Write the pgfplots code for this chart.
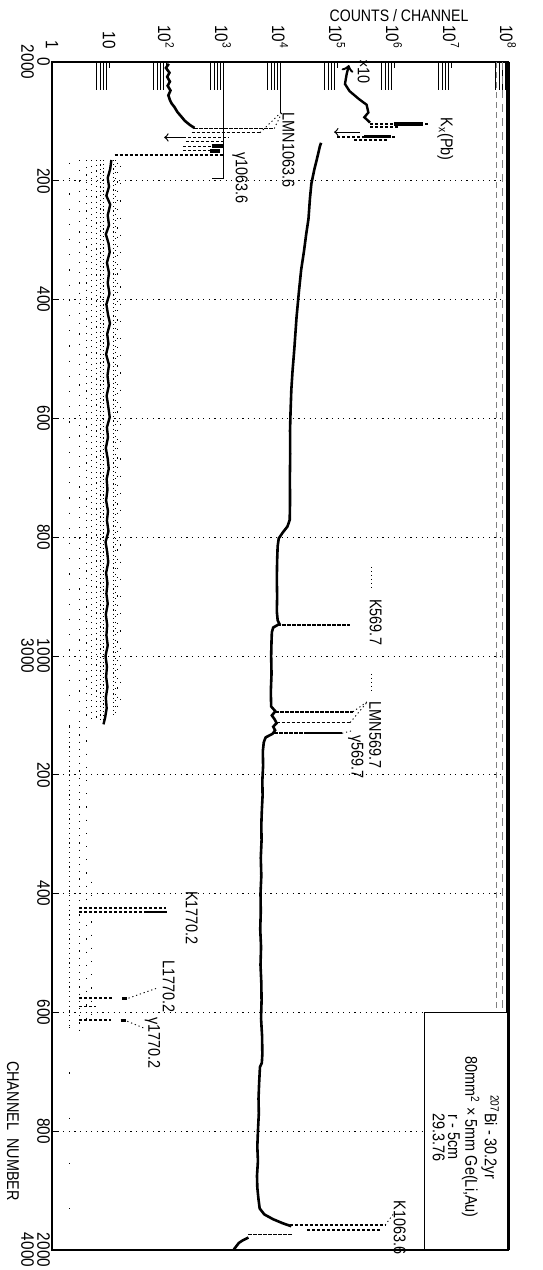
\documentclass[border=0pt]{standalone}
\usepackage{fontspec}
\setmainfont{Liberation Sans}[FakeStretch=0.85]
\usepackage{pgfplots}
\pgfplotsset{compat=1.18}
\tikzset{
  pk/.style={line width=0.8pt, dash pattern=on 1.6pt off 0.9pt},
  ld/.style={line width=0.45pt, dash pattern=on 0.6pt off 1.4pt},
  col/.style={line width=0.65pt},
  lab/.style={rotate=-90, font=\fontsize{8.5}{8.5}\selectfont, inner sep=0pt},
}
\begin{document}
\begin{tikzpicture}
\useasboundingbox (-26pt,-10pt) rectangle (245pt,625pt);
\begin{axis}[
  at={(0,0)}, anchor=south west,
  scale only axis, width=228pt, height=594pt,
  xmode=log, xmin=1, xmax=1e8,
  ymin=0, ymax=2000, y dir=reverse,
  clip=false,
  axis line style={line width=0.6pt},
  xtick={1,10,100,1000,10000,100000,1000000,10000000,100000000},
  xticklabels={1,10,10\textsuperscript{2},10\textsuperscript{3},10\textsuperscript{4},
               10\textsuperscript{5},10\textsuperscript{6},10\textsuperscript{7},10\textsuperscript{8}},
  minor xtick={6,7,8,9,60,70,80,90,600,700,800,900,6000,7000,8000,9000,
               60000,70000,80000,90000,600000,700000,800000,900000,
               6000000,7000000,8000000,9000000,60000000,70000000,80000000,90000000},
  xtick pos=right, xticklabel pos=right,
  ytick={0,200,...,2000},
  yticklabels={{0\\2000},200,400,600,800,{1000\\3000},200,400,600,800,{2000\\4000}},
  ytick pos=left,
  major tick length=3pt, minor tick length=14pt,
  tick style={black, line width=0.4pt},
  minor tick style={black, line width=0.3pt},
  xticklabel style={rotate=-90, anchor=east, font=\fontsize{9}{9}\selectfont},
  xticklabel shift=3pt,
  yticklabel style={rotate=-90, anchor=north, align=center, font=\fontsize{9}{8}\selectfont},
  yticklabel shift=-2.5pt,
  ymajorgrids,
  grid style={black, line width=0.5pt, dash pattern=on 0.6pt off 2.2pt},
]

% ruler marks at the top
\addplot[line width=0.4pt] coordinates {(1000,0) (1000,196) (630,196)};
\addplot[line width=0.4pt] coordinates {(10000,0) (10000,86)};
\addplot[line width=0.3pt, gray, dash pattern=on 3pt off 2pt] coordinates {(63000000,0) (63000000,1600)};
\addplot[line width=0.3pt, gray, dash pattern=on 4pt off 3pt] coordinates {(79000000,0) (79000000,1600)};

% ---- low-count spectrum: scatter columns at integer counts
\addplot[col, dash pattern=on 0.6pt off 7pt] coordinates {(2,170) (2,1120)};
\addplot[col, dash pattern=on 0.6pt off 1.8pt] coordinates {(2,1120) (2,1625)};
\addplot[col, dash pattern=on 0.6pt off 22pt] coordinates {(2,1625) (2,1960)};
\addplot[col, dash pattern=on 0.6pt off 4.5pt] coordinates {(3,165) (3,1120)};
\addplot[col, dash pattern=on 0.6pt off 3pt] coordinates {(3,1120) (3,1630)};
\addplot[col, dash pattern=on 0.6pt off 3pt] coordinates {(4,165) (4,1110)};
\addplot[col, dash pattern=on 0.6pt off 6pt] coordinates {(4,1120) (4,1620)};
\addplot[col, dash pattern=on 0.6pt off 2.4pt] coordinates {(5,165) (5,1110)};
\addplot[col, dash pattern=on 0.6pt off 6pt] coordinates {(5,1380) (5,1620)};
\addplot[col, dash pattern=on 0.6pt off 2pt] coordinates {(6,165) (6,1110)};
\addplot[col, dash pattern=on 0.6pt off 1.6pt] coordinates {(7,165) (7,1110)};
\addplot[col, dash pattern=on 0.6pt off 1.3pt] coordinates {(8,165) (8,1110)};
\addplot[col, dash pattern=on 0.6pt off 1.5pt] coordinates {(12,165) (12,1100)};
\addplot[col, dash pattern=on 0.6pt off 2.4pt] coordinates {(13,165) (13,1100)};
\addplot[col, dash pattern=on 0.6pt off 4pt] coordinates {(14,170) (14,1090)};
\addplot[col, dash pattern=on 0.6pt off 8pt] coordinates {(16,175) (16,1080)};

% low-count spectrum: trend line
\addplot[line width=1.3pt] coordinates {
  (112,3) (100,10) (115,18) (105,25) (117,33) (107,40) (120,48) (110,56)
  (117,64) (126,70) (141,76) (158,84) (186,92) (214,99) (263,106) (316,111)};
\addplot[line width=1.2pt] coordinates {
  (11,165) (10.5,180) (9.5,195) (10,210) (9,225) (10.5,240) (9.5,258) (10,275)
  (8.8,290) (9.8,305) (10.3,320) (9.2,338) (10,355) (9.5,372) (10.2,390) (9,408)
  (9.6,425) (10.4,440) (9.3,458) (9.8,475) (8.9,492) (10,510) (9.4,528) (9.9,545)
  (9.1,562) (9.7,580) (10.3,598) (9.2,615) (9.6,632) (8.8,650) (9.5,668) (9.9,685)
  (9.1,702) (9.4,720) (8.9,738) (9.6,756) (9.2,772) (9.8,790) (8.7,808) (9.3,825)
  (9.7,842) (8.9,860) (9.4,878) (9,895) (9.5,912) (8.8,930) (9.3,948) (9,965)
  (9.5,982) (8.7,1000) (9.2,1018) (8.9,1035) (9.4,1052) (8.8,1070) (9.1,1088)
  (8.5,1105) (8,1115)};

% low-count peaks (1063.6 group)
\addplot[pk] coordinates {(316,112) (7940,112)};
\addplot[pk] coordinates {(282,119) (4470,119)};
\addplot[line width=0.6pt, <-] coordinates {(93,127) (200,127)};
\addplot[pk] coordinates {(200,127) (1260,127)};
\addplot[pk] coordinates {(224,134) (1000,134)};
\addplot[pk] coordinates {(200,142) (1000,142)};
\addplot[line width=2pt] coordinates {(631,142) (1000,142)};
\addplot[pk] coordinates {(200,149) (891,149)};
\addplot[line width=2pt] coordinates {(600,149) (891,149)};
\addplot[pk] coordinates {(12.6,157) (1000,157)};

% low-count peaks (1770.2 group)
\addplot[pk] coordinates {(3,1424) (100,1424)};
\addplot[pk] coordinates {(3,1431) (105,1431)};
\addplot[line width=1.2pt] coordinates {(45,1431) (105,1431)};
\addplot[pk] coordinates {(3,1576) (12,1576)};
\addplot[line width=1.6pt] coordinates {(17,1576) (21,1576)};
\addplot[pk] coordinates {(3,1590) (6,1590)};
\addplot[pk] coordinates {(3,1613) (11,1613)};
\addplot[line width=1.6pt] coordinates {(16,1613) (20,1613)};

% ---- main spectrum, first channels at x10
\addplot[line width=1.2pt, <-] coordinates {
  (162000,5) (148000,20) (138000,37) (166000,49) (240000,62) (331000,72)
  (355000,85) (302000,93) (380000,102)};
\addplot[pk] coordinates {(380000,104) (4170000,104)};
\addplot[line width=1.8pt] coordinates {(1000000,104) (3200000,104)};
\addplot[pk] coordinates {(380000,109) (1260000,109)};
\addplot[line width=0.6pt, <-] coordinates {(89000,118) (251000,118)};
\addplot[pk] coordinates {(100000,126) (1120000,126)};
\addplot[line width=1.4pt] coordinates {(300000,126) (900000,126)};
\addplot[pk] coordinates {(200000,131) (794000,131)};

% main spectrum
\addplot[line width=1.3pt] coordinates {
  (52500,136) (50000,142) (47900,150) (44000,165) (39800,182) (35500,205)
  (33500,230) (31600,264) (28800,290) (26300,319) (23500,350) (21400,388)
  (19500,430) (17800,484) (16600,520) (15800,552) (15300,590) (15000,620)
  (15100,660) (14900,700) (15000,740) (14800,771) (13500,782) (11200,792)
  (9500,802) (9100,815) (8900,840) (8800,870) (8900,900) (8800,925) (9100,940)
  (9800,946) (7600,952) (7200,960) (7100,975) (7000,1000) (7100,1030)
  (6900,1060) (7000,1085) (8300,1093) (7200,1100) (8100,1107) (8700,1113)
  (7600,1119) (8200,1125) (7400,1131) (5600,1137) (5200,1145) (5000,1160)
  (5050,1185) (4900,1210) (4950,1235) (4800,1260) (4700,1285) (4750,1310)
  (4600,1340) (4700,1370) (4550,1400) (4600,1430) (4500,1460) (4650,1490)
  (4550,1520) (4700,1550) (4750,1580) (4650,1610) (4850,1640) (4900,1670)
  (4800,1685) (4450,1692) (4300,1720) (4200,1745) (4250,1770) (4100,1800)
  (4000,1826) (4100,1850) (3950,1875) (4000,1895) (4200,1915) (4400,1930)
  (5300,1940) (7500,1948) (11200,1955) (15800,1960)};
\addplot[line width=1.3pt] coordinates {
  (2800,1979) (2200,1984) (1900,1988) (1700,1994) (1550,1999)};

% main spectrum peaks
\addplot[pk] coordinates {(9000,948) (170000,948)};
\addplot[pk] coordinates {(8300,1094) (190000,1094)};
\addplot[pk] coordinates {(8700,1112) (170000,1112)};
\addplot[pk] coordinates {(8000,1130) (31600,1130)};
\addplot[line width=0.8pt] coordinates {(31600,1130) (123000,1130)};
\addplot[pk] coordinates {(14800,1958) (700000,1958)};
\addplot[pk] coordinates {(30000,1966) (600000,1966)};
\addplot[pk] coordinates {(2800,1974) (17000,1974)};

% leaders
\addplot[ld] coordinates {(7940,112) (11200,82)};
\addplot[ld] coordinates {(4470,119) (11200,82)};
\addplot[ld] coordinates {(400000,850) (400000,890)};
\addplot[ld] coordinates {(400000,1030) (400000,1058)};
\addplot[ld] coordinates {(190000,1094) (350000,1076)};
\addplot[ld] coordinates {(170000,1112) (350000,1076)};
\addplot[ld] coordinates {(123000,1130) (180000,1126)};
\addplot[ld] coordinates {(22,1576) (70,1559)};
\addplot[ld] coordinates {(21,1615) (40,1626)};
\addplot[ld] coordinates {(700000,1958) (1000000,1938)};

% thick right frame
\addplot[line width=1.8pt] coordinates {(100000000,0) (100000000,2000)};

% information box
\addplot[fill=white, draw=black, line width=0.6pt] coordinates {
  (3470000,1600) (100000000,1600) (100000000,2000) (3470000,2000) (3470000,1600)};
\node[rotate=-90, align=center, font=\fontsize{8.5}{7.6}\selectfont]
  at (axis cs:18200000,1810)
  {\textsuperscript{207}Bi - 30.2yr\\80mm\textsuperscript{2} × 5mm Ge(Li,Au)\\r - 5cm\\29.3.76};

% labels
\node[lab] at (axis cs:295000,16) {×10};
\node[lab] at (axis cs:7900000,130) {K\textsubscript{x}(Pb)};
\node[lab] at (axis cs:14100,148) {LMN1063.6};
\node[lab] at (axis cs:2000,195) {γ1063.6};
\node[lab] at (axis cs:479000,943) {K569.7};
\node[lab] at (axis cs:468000,1133) {LMN569.7};
\node[lab] at (axis cs:214000,1170) {γ569.7};
\node[lab] at (axis cs:282,1441) {K1770.2};
\node[lab] at (axis cs:112,1557) {L1770.2};
\node[lab] at (axis cs:58,1652) {γ1770.2};
\node[lab] at (axis cs:1260000,1962) {K1063.6};

\node[font=\fontsize{8.3}{8.3}\selectfont] at (axis description cs:0.761,1.0387) {COUNTS / CHANNEL};
\node[rotate=-90, font=\fontsize{8.5}{8.5}\selectfont] at (axis description cs:-0.0855,0.1002) {CHANNEL\ \ NUMBER};
\end{axis}
\end{tikzpicture}
\end{document}
